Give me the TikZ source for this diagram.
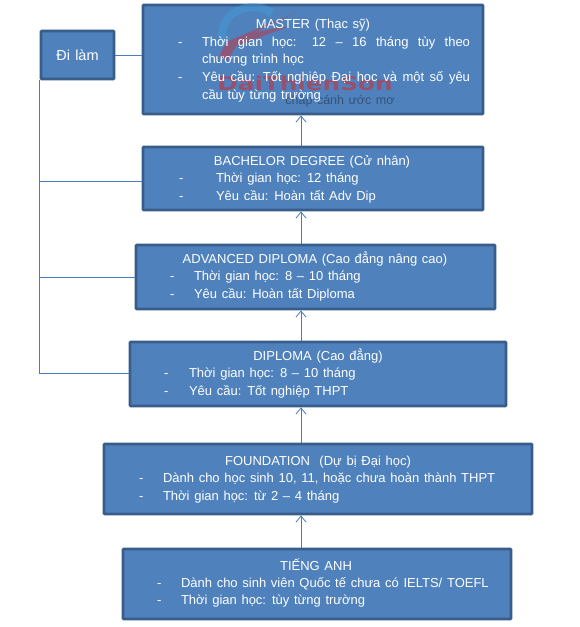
\documentclass[tikz,border=0pt]{standalone}
\usepackage{fontspec}
\setmainfont[WordSpace=1.3]{Liberation Sans}
\newfontfamily\wmfont{DejaVu Sans}
\usetikzlibrary{arrows.meta}
\definecolor{boxfill}{HTML}{4F81BD}
\definecolor{boxedge}{HTML}{385D8A}
\definecolor{connblue}{RGB}{70,125,190}
\definecolor{wmred}{HTML}{C8323C}
\definecolor{wmblue}{HTML}{3FA0DC}
\tikzset{
  x=1pt,y=-1pt,
  stage/.style={draw=boxedge,line width=2.8pt,fill=boxfill,rounded corners=0.8pt},
  txt/.style={anchor=base west,inner sep=0pt,outer sep=0pt,text=white,font=\fontsize{13}{15}\selectfont},
  ttl/.style={txt,anchor=base},
  conn/.style={color=connblue,line width=0.9pt},
  uparrow/.style={conn,-{Straight Barb[length=6pt,width=10pt,line width=0.8pt,color=connblue]}},
}
\begin{document}
\begin{tikzpicture}
\useasboundingbox (0,0) rectangle (579,627);
\fill[white] (0,0) rectangle (579,627);
\node[stage,minimum width=73pt,minimum height=48pt,inner sep=0pt,outer sep=1.4pt,text=white,font=\fontsize{14.5}{16}\selectfont] (dilam) at (77.5,55) {Đi làm};
\node[stage,minimum width=340pt,minimum height=109pt,inner sep=0pt,outer sep=1.4pt] (master) at (313,59.5) {};
\node[stage,minimum width=340pt,minimum height=63pt,inner sep=0pt,outer sep=1.4pt] (bachelor) at (313,178.5) {};
\node[stage,minimum width=359pt,minimum height=64pt,inner sep=0pt,outer sep=1.4pt] (advanced) at (315.5,277) {};
\node[stage,minimum width=376pt,minimum height=64pt,inner sep=0pt,outer sep=1.4pt] (diploma) at (318,374) {};
\node[stage,minimum width=428pt,minimum height=70pt,inner sep=0pt,outer sep=1.4pt] (foundation) at (318,479) {};
\node[stage,minimum width=388pt,minimum height=70pt,inner sep=0pt,outer sep=1.4pt] (english) at (317,584) {};
% left trunk
\coordinate (trunktop) at (39,80);
\coordinate (tb) at (39,181);
\coordinate (ta) at (39,277);
\coordinate (td) at (39,373);
\draw[conn] (dilam.east) -- (master.west |- dilam.east);
\draw[conn] (trunktop) -- (td);
\draw[conn] (tb) -- (bachelor.west |- tb);
\draw[conn] (ta) -- (advanced.west |- ta);
\draw[conn] (td) -- (diploma.west |- td);
% vertical arrows
\coordinate (ax) at (301,0);
\draw[uparrow] (ax |- bachelor.north) -- (ax |- master.south);
\draw[uparrow] (ax |- advanced.north) -- (ax |- bachelor.south);
\draw[uparrow] (ax |- diploma.north) -- (ax |- advanced.south);
\draw[uparrow] (ax |- foundation.north) -- (ax |- diploma.south);
\draw[uparrow] (ax |- english.north) -- (ax |- foundation.south);
% watermark
\draw[wmblue,line width=8pt,opacity=.45] (225,46) .. controls (212,14) and (250,-2) .. (272,13);
\fill[wmred,opacity=.5] (219,57) -- (226,42) -- (295,13) -- (255,32) -- (290,26) -- (236,46) -- (228,60) -- cycle;
\node[anchor=base,inner sep=0pt,text=wmred,opacity=.6,xscale=1.3,transform shape,font=\wmfont\fontsize{19}{20}\bfseries\selectfont] (wmname) at (305,90) {DaiThienSon};
\node[anchor=base,inner sep=0pt,text=black,opacity=.35,font=\fontsize{12.5}{14}\selectfont] (wmsub) at (340,104) {chắp cánh ước mơ};
% master
\node[ttl] (m0) at (313,28) {MASTER (Thạc sỹ)};
\node[txt] (m1d) at (178,46) {-};
\node[txt] (m1) at (202,46) {\makebox[268pt][s]{Thời gian học: 12 – 16 tháng tùy theo}};
\node[txt] (m2) at (202,63) {chương trình học};
\node[txt] (m3d) at (178,81) {-};
\node[txt] (m3) at (202,81) {\makebox[268pt][s]{Yêu cầu: Tốt nghiệp Đại học và một số yêu}};
\node[txt] (m4) at (202,99) {cầu tùy từng trường};
% bachelor
\node[ttl] (b0) at (312,165) {BACHELOR DEGREE (Cử nhân)};
\node[txt] (b1d) at (179,182) {-};
\node[txt] (b1) at (216,182) {Thời gian học: 12 tháng};
\node[txt] (b2d) at (179,200) {-};
\node[txt] (b2) at (216,200) {Yêu cầu: Hoàn tất Adv Dip};
% advanced
\node[ttl] (a0) at (315,263) {ADVANCED DIPLOMA (Cao đẳng nâng cao)};
\node[txt] (a1d) at (170,280) {-};
\node[txt] (a1) at (194,280) {Thời gian học: 8 – 10 tháng};
\node[txt] (a2d) at (170,298) {-};
\node[txt] (a2) at (194,298) {Yêu cầu: Hoàn tất Diploma};
% diploma
\node[ttl] (d0) at (318,360) {DIPLOMA (Cao đẳng)};
\node[txt] (d1d) at (164,377) {-};
\node[txt] (d1) at (189,377) {Thời gian học: 8 – 10 tháng};
\node[txt] (d2d) at (164,395) {-};
\node[txt] (d2) at (189,395) {Yêu cầu: Tốt nghiệp THPT};
% foundation
\node[ttl] (f0) at (318,465) {FOUNDATION\ \ (Dự bị Đại học)};
\node[txt] (f1d) at (139,482) {-};
\node[txt] (f1) at (163,482) {Dành cho học sinh 10, 11, hoặc chưa hoàn thành THPT};
\node[txt] (f2d) at (139,500) {-};
\node[txt] (f2) at (163,500) {Thời gian học: từ 2 – 4 tháng};
% english
\node[ttl] (e0) at (316,570) {TIẾNG ANH};
\node[txt] (e1d) at (157,587) {-};
\node[txt] (e1) at (181,587) {Dành cho sinh viên Quốc tế chưa có IELTS/ TOEFL};
\node[txt] (e2d) at (157,604) {-};
\node[txt] (e2) at (181,604) {Thời gian học: tùy từng trường};
\end{tikzpicture}
\end{document}
